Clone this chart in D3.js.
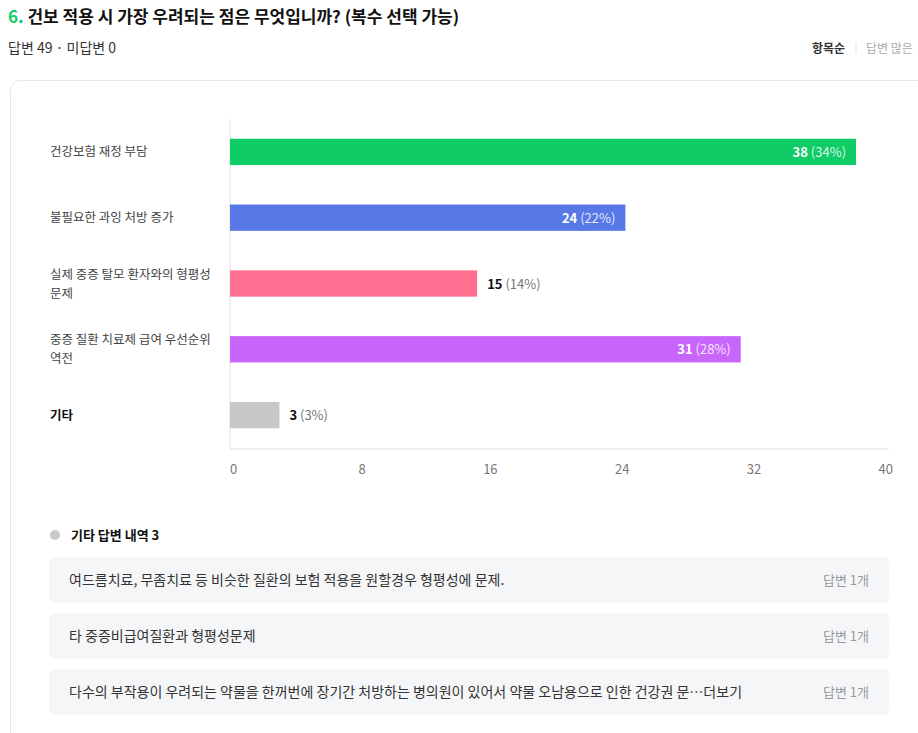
<!DOCTYPE html>
<html><head><meta charset="utf-8">
<script src="https://cdn.jsdelivr.net/npm/d3@7"></script>
<style>
body{margin:0;background:#fff;font-family:"Noto Sans CJK KR","Noto Sans",sans-serif;}
</style></head>
<body><div id="chart"></div>
<script>
const categories = ["건강보험 재정 부담", "불필요한 과잉 처방 증가", "실제 중증 탈모 환자와의 형평성|문제", "중증 질환 치료제 급여 우선순위|역전", "기타"];
const counts = [38, 24, 15, 31, 3];
const percents = ["34%", "22%", "14%", "28%", "3%"];
const colors = ["#10cc66", "#5878e8", "#ff7090", "#c865fa", "#c8c8c8"];
const xTicks = [0, 8, 16, 24, 32, 40];
const otherAnswers = [
  "여드름치료, 무좀치료 등 비슷한 질환의 보험 적용을 원할경우 형평성에 문제.",
  "타 중증비급여질환과 형평성문제",
  "다수의 부작용이 우려되는 약물을 한꺼번에 장기간 처방하는 병의원이 있어서 약물 오남용으로 인한 건강권 문…더보기"
];

const svg = d3.select("#chart").append("svg").attr("width", 918).attr("height", 733);

// header
const t = svg.append("text").attr("x", 8).attr("y", 23).attr("font-size", 17).attr("font-weight", 700).attr("fill", "#111");
t.append("tspan").attr("fill", "#10cc66").text("6. ");
t.append("tspan").text("건보 적용 시 가장 우려되는 점은 무엇입니까? (복수 선택 가능)");
svg.append("text").attr("x", 8).attr("y", 53).attr("font-size", 14).attr("fill", "#333").text("답변 49  ·  미답변 0");
svg.append("text").attr("x", 845).attr("y", 53).attr("font-size", 12).attr("text-anchor", "end").attr("fill", "#333").attr("font-weight", 700).text("항목순");
svg.append("line").attr("x1", 856).attr("x2", 856).attr("y1", 42).attr("y2", 54).attr("stroke", "#ddd");
svg.append("text").attr("x", 866).attr("y", 53).attr("font-size", 12).attr("fill", "#aaa").text("답변 많은");

// card
svg.append("rect").attr("x", 10.5).attr("y", 80.5).attr("width", 930).attr("height", 700).attr("rx", 10)
  .attr("fill", "#fff").attr("stroke", "#e8e8e8");

const x = d3.scaleLinear().domain([0, 40]).range([230, 889]);
const y = d3.scaleBand().domain(categories).range([119, 448]).paddingInner(0.6).paddingOuter(0.3);

const g = svg.append("g");
g.append("line").attr("x1", 230).attr("x2", 230).attr("y1", 119).attr("y2", 449).attr("stroke", "#e0e0e0");
g.append("line").attr("x1", 230).attr("x2", 889).attr("y1", 449).attr("y2", 449).attr("stroke", "#e0e0e0");

g.selectAll(".xt").data(xTicks).join("text")
  .attr("x", d => d === 0 ? x(d) : x(d) + 4)
  .attr("y", 474).attr("font-size", 13).attr("fill", "#777")
  .attr("text-anchor", d => d === 0 ? "start" : "end").text(d => d);

g.selectAll(".bar").data(counts).join("rect")
  .attr("x", x(0)).attr("y", (d, i) => y(categories[i]))
  .attr("width", d => x(d) - x(0)).attr("height", y.bandwidth())
  .attr("fill", (d, i) => colors[i]);

// category labels
categories.forEach((c, i) => {
  const lines = c.split("|");
  const cy = y(c) + y.bandwidth() / 2;
  const tx = g.append("text").attr("x", 50).attr("font-size", 12.5)
    .attr("fill", i === 4 ? "#111" : "#444").attr("font-weight", i === 4 ? 700 : 400);
  lines.forEach((l, j) => tx.append("tspan").attr("x", 50)
    .attr("y", cy + 4.5 + (j - (lines.length - 1) / 2) * 19).text(l));
});

// value labels
counts.forEach((v, i) => {
  const inside = v > 20;
  const cy = y(categories[i]) + y.bandwidth() / 2 + 5;
  const tx = g.append("text").attr("y", cy).attr("font-size", 13)
    .attr("x", inside ? x(v) - 10 : x(v) + 10)
    .attr("text-anchor", inside ? "end" : "start");
  tx.append("tspan").attr("font-weight", 700).attr("fill", inside ? "#fff" : "#111").text(v);
  tx.append("tspan").attr("fill", inside ? "#fff" : "#777").attr("fill-opacity", inside ? 0.85 : 1).text(" (" + percents[i] + ")");
});

// other answers
svg.append("circle").attr("cx", 55).attr("cy", 535).attr("r", 5).attr("fill", "#c8c8c8");
svg.append("text").attr("x", 71).attr("y", 540).attr("font-size", 13).attr("font-weight", 700).attr("fill", "#111").text("기타 답변 내역 3");
const rows = svg.selectAll(".oa").data(otherAnswers).join("g")
  .attr("transform", (d, i) => `translate(49,${557 + i * 56})`);
rows.append("rect").attr("width", 840).attr("height", 46).attr("rx", 6).attr("fill", "#f5f6f8");
rows.append("text").attr("x", 20).attr("y", 28).attr("font-size", 14).attr("fill", "#333").text(d => d);
rows.append("text").attr("x", 820).attr("y", 28).attr("font-size", 13).attr("text-anchor", "end").attr("fill", "#999").text("답변 1개");
</script></body></html>
